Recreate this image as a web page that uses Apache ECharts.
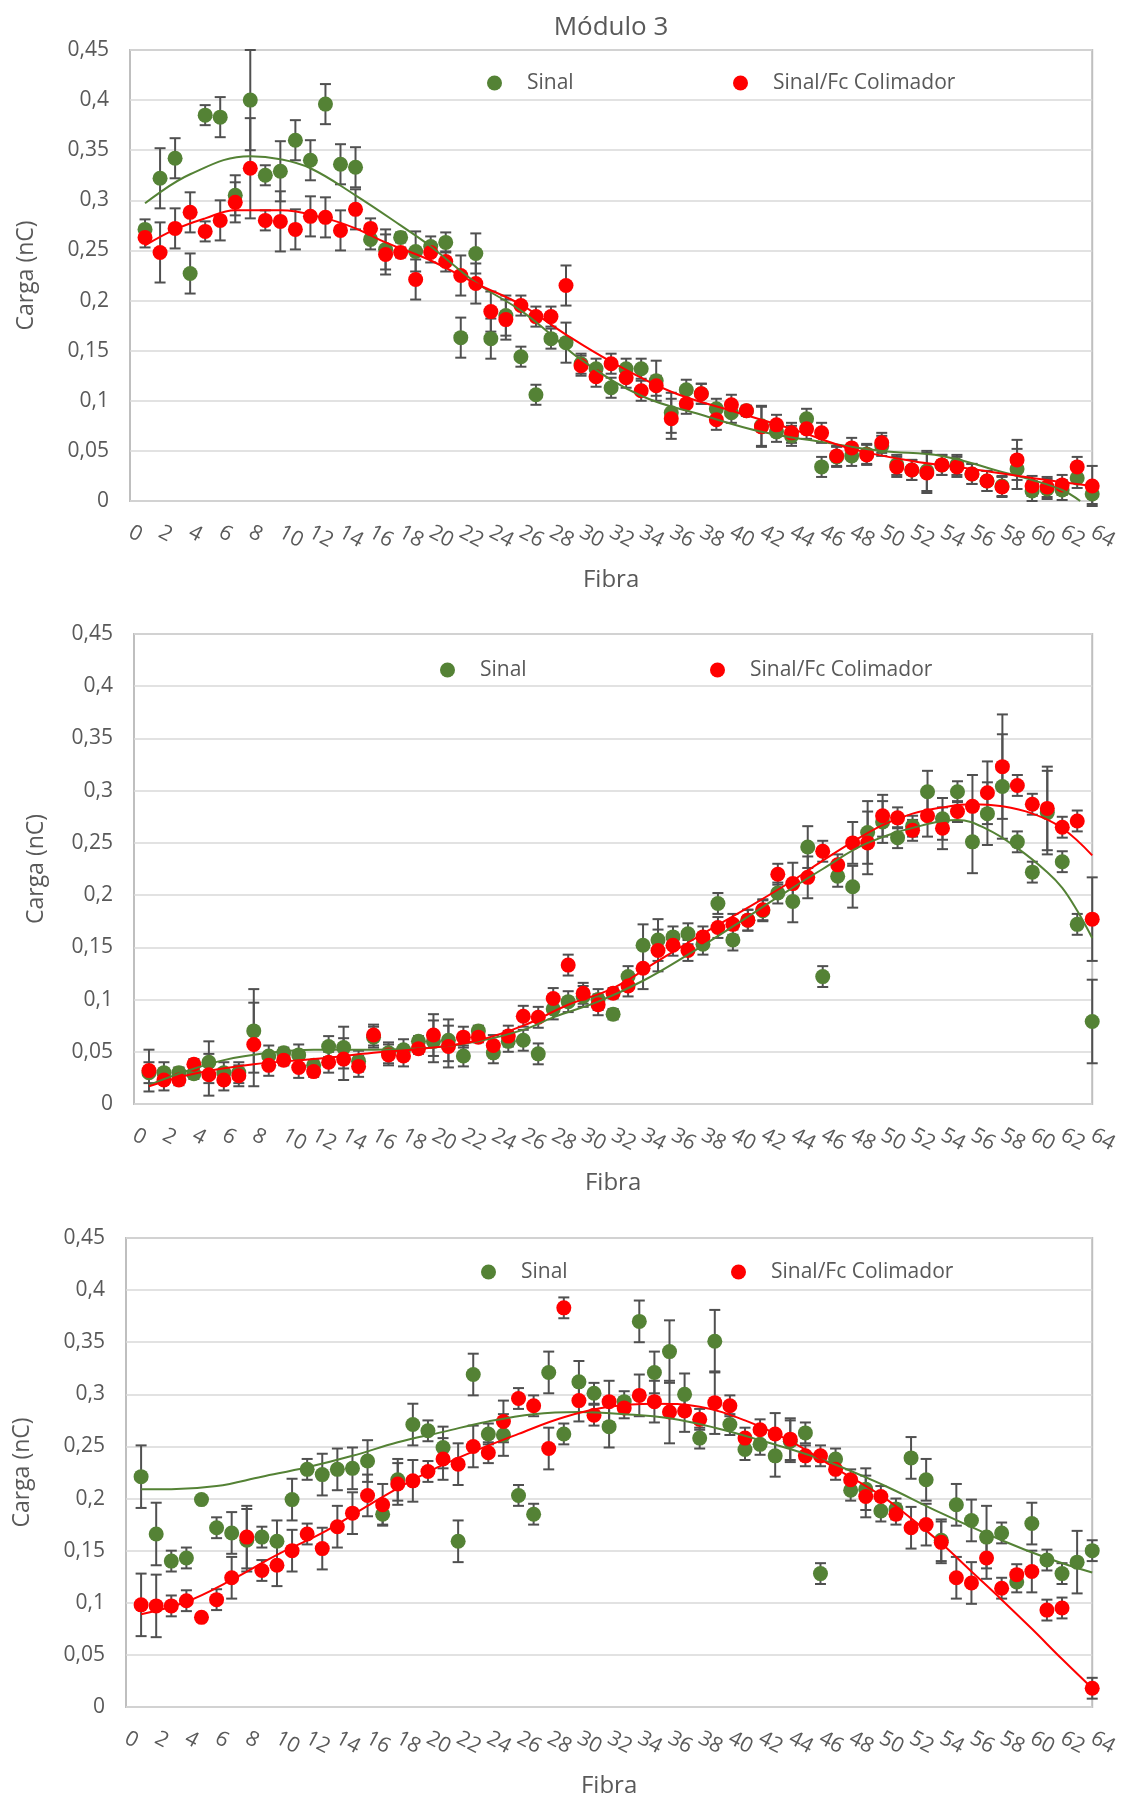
<!DOCTYPE html>
<html>
<head>
<meta charset="utf-8">
<script src="https://cdn.jsdelivr.net/npm/echarts@6/dist/echarts.min.js"></script>
<style>
  html, body { margin: 0; padding: 0; background: #fff; }
  #chart { width: 1121px; height: 1800px; }
</style>
</head>
<body>
<div id="chart"></div>
<script>
// fibre numbers 1..64
var fibras = [];
for (var k = 1; k <= 64; k++) fibras.push(k);

var yTicks = [0, 0.05, 0.1, 0.15, 0.2, 0.25, 0.3, 0.35, 0.4, 0.45];

/* ---- panel 1 ---- */
var p1Sinal = [0.271,0.322,0.342,0.227,0.385,0.383,0.305,0.400,0.325,0.329,0.360,0.340,0.396,0.336,0.333,0.261,
  0.251,0.263,0.249,0.254,0.258,0.163,0.247,0.162,0.185,0.144,0.106,0.162,0.158,0.137,0.132,0.113,
  0.132,0.132,0.120,0.088,0.111,0.107,0.092,0.088,0.090,0.075,0.069,0.065,0.082,0.034,0.044,0.045,
  0.047,0.055,0.036,0.031,0.030,0.036,0.036,0.027,0.020,0.015,0.032,0.010,0.012,0.011,0.023,0.007];
var p1SinalErr = [0.01,0.03,0.02,0.02,0.01,0.02,0.02,0.05,0.01,0.03,0.02,0.02,0.02,0.02,0.02,0.01,
  0.02,0.005,0.02,0.01,0.01,0.02,0.02,0.02,0.02,0.01,0.01,0.01,0.02,0.01,0.01,0.01,
  0.01,0.01,0.02,0.02,0.01,0.01,0.01,0.01,0.005,0.02,0.01,0.01,0.01,0.01,0.01,0.01,
  0.01,0.01,0.01,0.01,0.02,0.01,0.01,0.01,0.01,0.01,0.02,0.01,0.01,0.01,0.01,0.01];
var p1Colim = [0.263,0.248,0.272,0.288,0.269,0.280,0.298,0.332,0.280,0.279,0.271,0.284,0.283,0.270,0.291,0.272,
  0.246,0.248,0.221,0.248,0.239,0.225,0.217,0.189,0.181,0.195,0.184,0.184,0.215,0.135,0.124,0.137,
  0.123,0.110,0.115,0.082,0.097,0.107,0.081,0.096,0.090,0.074,0.076,0.068,0.072,0.068,0.045,0.053,
  0.046,0.058,0.034,0.031,0.028,0.036,0.034,0.027,0.020,0.014,0.041,0.015,0.014,0.016,0.034,0.015];
var p1ColimErr = [0.01,0.03,0.02,0.02,0.01,0.02,0.02,0.05,0.01,0.03,0.02,0.02,0.02,0.02,0.02,0.01,
  0.02,0.005,0.02,0.01,0.01,0.02,0.02,0.02,0.02,0.01,0.01,0.01,0.02,0.01,0.01,0.01,
  0.01,0.01,0.01,0.02,0.01,0.01,0.01,0.01,0.005,0.02,0.01,0.01,0.01,0.01,0.01,0.01,
  0.01,0.01,0.01,0.01,0.02,0.01,0.01,0.01,0.01,0.01,0.02,0.01,0.01,0.01,0.01,0.02];
var p1SinalTrend = [[1,0.297],[4,0.326],[8,0.344],[10,0.341],[12,0.332],[15,0.305],[18,0.275],[20,0.254],
  [23,0.218],[26,0.19],[28,0.166],[30,0.141],[34,0.105],[38,0.086],[42,0.069],[46,0.059],[50,0.05],
  [54,0.045],[58,0.029],[60,0.021],[62,0.011],[63.2,0.0]];
var p1ColimTrend = [[1,0.255],[3,0.271],[5,0.282],[7,0.290],[10,0.290],[13,0.282],[15,0.272],[17,0.258],
  [20,0.240],[23,0.217],[26,0.196],[29,0.166],[32,0.139],[36,0.109],[40,0.09],[44,0.072],[48,0.052],
  [52,0.04],[56,0.032],[60,0.023],[64,0.015]];

/* ---- panel 2 ---- */
var p2Sinal = [0.030,0.030,0.030,0.029,0.040,0.030,0.030,0.070,0.046,0.049,0.047,0.037,0.055,0.054,0.041,0.064,
  0.049,0.052,0.060,0.060,0.061,0.046,0.070,0.049,0.060,0.061,0.048,0.091,0.098,0.103,0.100,0.086,
  0.122,0.152,0.157,0.160,0.163,0.153,0.192,0.157,0.176,0.185,0.202,0.194,0.246,0.122,0.218,0.208,
  0.260,0.270,0.255,0.266,0.299,0.273,0.299,0.251,0.278,0.304,0.251,0.222,0.279,0.232,0.172,0.079];
var p2SinalErr = [0.01,0.01,0.005,0.005,0.02,0.01,0.01,0.04,0.01,0.005,0.01,0.005,0.01,0.02,0.01,0.01,
  0.01,0.01,0.005,0.02,0.02,0.01,0.005,0.01,0.01,0.01,0.01,0.01,0.01,0.01,0.01,0.005,
  0.01,0.02,0.02,0.01,0.01,0.01,0.01,0.01,0.01,0.01,0.01,0.02,0.02,0.01,0.01,0.02,
  0.03,0.02,0.01,0.01,0.02,0.02,0.01,0.03,0.03,0.05,0.01,0.01,0.04,0.01,0.01,0.04];
var p2Colim = [0.032,0.023,0.023,0.038,0.028,0.023,0.027,0.057,0.037,0.042,0.035,0.031,0.040,0.043,0.036,0.066,
  0.047,0.046,0.053,0.066,0.055,0.064,0.064,0.056,0.065,0.084,0.083,0.101,0.133,0.106,0.095,0.106,
  0.113,0.130,0.147,0.152,0.147,0.160,0.169,0.172,0.176,0.186,0.220,0.211,0.217,0.242,0.229,0.250,
  0.250,0.276,0.274,0.262,0.276,0.264,0.280,0.285,0.298,0.323,0.305,0.287,0.283,0.265,0.271,0.177];
var p2ColimErr = [0.02,0.01,0.005,0.005,0.02,0.01,0.01,0.04,0.01,0.005,0.01,0.005,0.01,0.02,0.01,0.01,
  0.01,0.01,0.005,0.02,0.02,0.01,0.005,0.01,0.01,0.01,0.01,0.01,0.01,0.01,0.01,0.005,
  0.01,0.02,0.02,0.01,0.01,0.01,0.01,0.01,0.01,0.01,0.01,0.02,0.02,0.01,0.01,0.02,
  0.03,0.02,0.01,0.01,0.02,0.02,0.01,0.03,0.03,0.05,0.01,0.01,0.04,0.01,0.01,0.04];
var p2SinalTrend = [[1,0.018],[3,0.029],[6,0.042],[9,0.049],[12,0.052],[16,0.052],[20,0.054],[23,0.060],
  [26,0.071],[28,0.083],[31,0.098],[34,0.118],[37,0.143],[40,0.170],[43,0.198],[46,0.225],[49,0.250],
  [53,0.268],[55,0.272],[57,0.263],[59,0.245],[61,0.222],[62,0.207],[63,0.185],[64,0.159]];
var p2ColimTrend = [[1,0.017],[4,0.029],[8,0.038],[12,0.043],[16,0.049],[20,0.054],[23,0.061],[26,0.075],
  [29,0.095],[32,0.111],[35,0.137],[38,0.163],[41,0.188],[44,0.214],[46,0.233],[48,0.251],[50,0.267],
  [52,0.278],[54,0.284],[56,0.287],[58,0.285],[60,0.278],[62,0.264],[64,0.238]];

/* ---- panel 3 ---- */
var p3Sinal = [0.221,0.166,0.140,0.143,0.199,0.172,0.167,0.160,0.163,0.159,0.199,0.228,0.223,0.228,0.229,0.236,
  0.185,0.218,0.271,0.265,0.249,0.159,0.319,0.262,0.261,0.203,0.185,0.321,0.262,0.312,0.301,0.269,
  0.293,0.370,0.321,0.341,0.300,0.258,0.351,0.271,0.247,0.252,0.241,0.255,0.263,0.128,0.238,0.208,
  0.209,0.188,0.190,0.239,0.218,0.160,0.194,0.179,0.163,0.167,0.120,0.176,0.141,0.128,0.139,0.150];
var p3SinalErr = [0.03,0.03,0.01,0.01,0,0.01,0.02,0.03,0.01,0.02,0.02,0.01,0.02,0.02,0.02,0.02,
  0.01,0.02,0.02,0.01,0.02,0.02,0.02,0.01,0.02,0.01,0.01,0.02,0.01,0.02,0.01,0.02,
  0.01,0.02,0.02,0.03,0.02,0.01,0.03,0.01,0.01,0.01,0.02,0.02,0.01,0.01,0.01,0.01,
  0.02,0.01,0.01,0.02,0.02,0.02,0.02,0.02,0.03,0.01,0.01,0.02,0.01,0.01,0.03,0.01];
var p3Colim = [0.098,0.097,0.097,0.102,0.086,0.103,0.124,0.163,0.131,0.136,0.150,0.166,0.152,0.173,0.186,0.203,
  0.194,0.214,0.217,0.226,0.238,0.233,0.250,0.244,0.274,0.296,0.289,0.248,0.383,0.294,0.280,0.293,
  0.287,0.299,0.293,0.283,0.284,0.276,0.292,0.289,0.258,0.266,0.262,0.257,0.241,0.241,0.228,0.218,
  0.202,0.202,0.185,0.172,0.175,0.158,0.124,0.119,0.143,0.114,0.127,0.130,0.093,0.095,null,0.018];
var p3ColimErr = [0.03,0.03,0.01,0.01,0,0.01,0.02,0.03,0.01,0.02,0.02,0.01,0.02,0.02,0.02,0.02,
  0.02,0.02,0.02,0.01,0.02,0.02,0.02,0.01,0.02,0.01,0.01,0.02,0.01,0.02,0.01,0.02,
  0.01,0.02,0.02,0.03,0.02,0.01,0.03,0.01,0.01,0.01,0.02,0.02,0.01,0.01,0.01,0.01,
  0.02,0.01,0.01,0.02,0.02,0.02,0.02,0.02,0.02,0.01,0.01,0.02,0.01,0.01,0,0.01];
var p3SinalTrend = [[1,0.209],[3,0.209],[6,0.212],[9,0.221],[12,0.230],[15,0.241],[18,0.254],[21,0.264],
  [24,0.274],[27,0.281],[30,0.283],[33,0.281],[36,0.277],[39,0.268],[42,0.256],[46,0.238],
  [50,0.214],[54,0.186],[58,0.160],[61,0.143],[64,0.129]];
var p3ColimTrend = [[1,0.089],[4,0.101],[7,0.122],[10,0.146],[13,0.167],[16,0.193],[19,0.218],[22,0.239],
  [26,0.262],[29,0.278],[32,0.288],[35,0.291],[38,0.288],[41,0.275],[44,0.255],[47,0.229],[50,0.203],
  [52,0.181],[54,0.157],[56,0.130],[58,0.103],[60,0.075],[62,0.046],[64,0.018]];

var panels = [
  {sinal: p1Sinal, sinalErr: p1SinalErr, colim: p1Colim, colimErr: p1ColimErr, sinalTrend: p1SinalTrend, colimTrend: p1ColimTrend},
  {sinal: p2Sinal, sinalErr: p2SinalErr, colim: p2Colim, colimErr: p2ColimErr, sinalTrend: p2SinalTrend, colimTrend: p2ColimTrend},
  {sinal: p3Sinal, sinalErr: p3SinalErr, colim: p3Colim, colimErr: p3ColimErr, sinalTrend: p3SinalTrend, colimTrend: p3ColimTrend}
];

var GREEN = '#548235';
var RED = '#ff0000';
var TEXT = '#595959';
var FONT = '"Open Sans", "Noto Sans", sans-serif';

function pairs(vals)
{
    var out = [];
    vals.forEach(function (v, i) { if (v != null) out.push([fibras[i], v]); });
    return out;
}

function errData(vals, errs)
{
    var out = [];
    vals.forEach(function (v, i) {
	if (v != null && errs[i] > 0) out.push([fibras[i], v - errs[i], v + errs[i]]);
    });
    return out;
}

function renderErr(params, api)
{
    var a = api.coord([api.value(0), api.value(1)]);
    var b = api.coord([api.value(0), api.value(2)]);
    var w = 5.5;
    var st = {stroke: '#505050', lineWidth: 2};
    return {
	type: 'group',
	children: [
	    {type: 'line', shape: {x1: a[0], y1: a[1], x2: b[0], y2: b[1]}, style: st},
	    {type: 'line', shape: {x1: a[0]-w, y1: a[1], x2: a[0]+w, y2: a[1]}, style: st},
	    {type: 'line', shape: {x1: b[0]-w, y1: b[1], x2: b[0]+w, y2: b[1]}, style: st}
	]
    };
}

var grids = [
    {left: 130, top: 50, width: 965, height: 451},
    {left: 134, top: 634, width: 961, height: 470},
    {left: 126, top: 1238, width: 969, height: 469}
];
var yNameGap = [92, 86, 92];
var legendPos = [
    [[482, 67], [728, 67]],
    [[435, 654], [705, 654]],
    [[476, 1256], [726, 1256]]
];

var xAxes = [], yAxes = [], series = [], legends = [];

grids.forEach(function (g, i) {
    g.show = true;
    g.borderColor = '#bfbfbf';
    g.borderWidth = 2;

    xAxes.push({
	type: 'value', gridIndex: i, min: 0, max: 64, interval: 2,
	axisLine: {show: false}, axisTick: {show: false}, splitLine: {show: false},
	axisLabel: {rotate: -28, fontSize: 21, color: TEXT, fontFamily: FONT, margin: 30},
	name: 'Fibra', nameLocation: 'middle', nameGap: 67,
	nameTextStyle: {fontSize: 24, color: TEXT, fontFamily: FONT}
    });
    yAxes.push({
	type: 'value', gridIndex: i, min: 0, max: 0.45, interval: 0.05,
	axisLine: {show: false}, axisTick: {show: false},
	splitLine: {lineStyle: {color: '#d9d9d9', width: 1.5}},
	axisLabel: {
	    fontSize: 21, color: TEXT, fontFamily: FONT, margin: 21,
	    formatter: function (v) { return String(Math.round(v * 100) / 100).replace('.', ','); }
	},
	name: 'Carga (nC)', nameLocation: 'middle', nameGap: yNameGap[i],
	nameTextStyle: {fontSize: 23, color: TEXT, fontFamily: FONT}
    });

    var p = panels[i];
    series.push({
	type: 'custom', name: 'errSinal' + i, xAxisIndex: i, yAxisIndex: i,
	renderItem: renderErr, encode: {x: 0, y: [1, 2]}, data: errData(p.sinal, p.sinalErr), z: 2
    });
    series.push({
	type: 'custom', name: 'errColim' + i, xAxisIndex: i, yAxisIndex: i,
	renderItem: renderErr, encode: {x: 0, y: [1, 2]}, data: errData(p.colim, p.colimErr), z: 2
    });
    series.push({
	type: 'scatter', name: 'Sinal', xAxisIndex: i, yAxisIndex: i,
	symbolSize: 15, itemStyle: {color: GREEN, opacity: 1}, data: pairs(p.sinal), z: 3
    });
    series.push({
	type: 'scatter', name: 'Sinal/Fc Colimador', xAxisIndex: i, yAxisIndex: i,
	symbolSize: 15, itemStyle: {color: RED, opacity: 1}, data: pairs(p.colim), z: 4
    });
    series.push({
	type: 'line', name: 'trendSinal' + i, xAxisIndex: i, yAxisIndex: i, smooth: 0.4,
	showSymbol: false, symbol: 'none', lineStyle: {color: GREEN, width: 2}, data: p.sinalTrend, z: 5
    });
    series.push({
	type: 'line', name: 'trendColim' + i, xAxisIndex: i, yAxisIndex: i, smooth: 0.4,
	showSymbol: false, symbol: 'none', lineStyle: {color: RED, width: 2}, data: p.colimTrend, z: 5
    });

    ['Sinal', 'Sinal/Fc Colimador'].forEach(function (nm, j) {
	legends.push({
	    data: [nm], left: legendPos[i][j][0], top: legendPos[i][j][1],
	    icon: 'circle', itemWidth: 15, itemHeight: 15, selectedMode: false,
	    textStyle: {fontSize: 21, color: TEXT, fontFamily: FONT, padding: [0, 0, 0, 20], lineHeight: 22}
	});
    });
});

var chart = echarts.init(document.getElementById('chart'), null, {renderer: 'canvas'});
chart.setOption({
    animation: false,
    backgroundColor: '#fff',
    title: {
	text: 'Módulo 3', left: 606, top: 10, textAlign: 'center',
	textStyle: {fontSize: 26, fontWeight: 'normal', color: TEXT, fontFamily: FONT}
    },
    legend: legends,
    grid: grids,
    xAxis: xAxes,
    yAxis: yAxes,
    series: series
});
</script>
</body>
</html>
